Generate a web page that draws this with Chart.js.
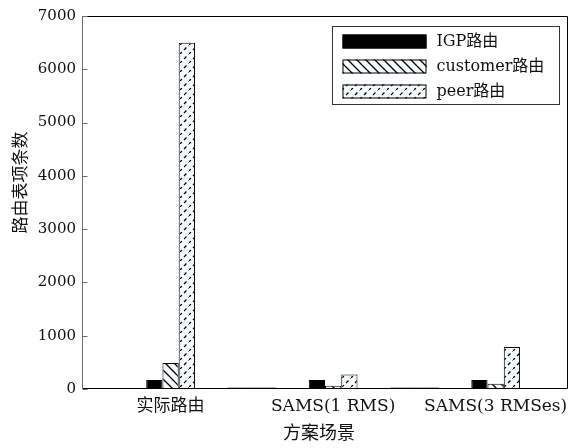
<!DOCTYPE html>
<html>
<head>
<meta charset="utf-8">
<script src="https://cdn.jsdelivr.net/npm/chart.js@4.4.1/dist/chart.umd.min.js"></script>
<style>
  html, body { margin: 0; padding: 0; background: #fff; }
  #wrap { width: 572px; height: 448px; }
</style>
</head>
<body>
<div id="wrap"><canvas id="c" width="572" height="448"></canvas></div>
<script>
// Routing-table entry counts per scenario (blank slots separate the groups)
const categories = ['实际路由', '', 'SAMS(1 RMS)', '', 'SAMS(3 RMSes)'];
const seriesNames = ['IGP路由', 'customer路由', 'peer路由'];
const igpCounts = [170, 0, 170, 0, 170];
const customerCounts = [490, 0, 60, 0, 100];
const peerCounts = [6500, 0, 270, 0, 790];
const yTicks = [0, 1000, 2000, 3000, 4000, 5000, 6000, 7000];
const xTitle = '方案场景';
const yTitle = '路由表项条数';

const FONT_FAMILY = '"DejaVu Serif", "Noto Sans CJK SC", serif';
const HATCH_BG = '#f5fbfd';

// Back-diagonal solid hatching
function backHatch() {
  const s = 9;
  const c = document.createElement('canvas');
  c.width = s; c.height = s;
  const g = c.getContext('2d');
  g.fillStyle = HATCH_BG;
  g.fillRect(0, 0, s, s);
  g.strokeStyle = '#000';
  g.lineWidth = 1.3;
  g.beginPath();
  g.moveTo(-2, -2); g.lineTo(s + 2, s + 2);
  g.moveTo(-2, s - 2); g.lineTo(2, s + 2);
  g.moveTo(s - 2, -2); g.lineTo(s + 2, 2);
  g.stroke();
  return g.createPattern(c, 'repeat');
}

// Forward-diagonal dashed hatching
function dashHatch() {
  const s = 9;
  const c = document.createElement('canvas');
  c.width = s; c.height = s;
  const g = c.getContext('2d');
  g.fillStyle = HATCH_BG;
  g.fillRect(0, 0, s, s);
  g.strokeStyle = '#000';
  g.lineWidth = 1.3;
  g.setLineDash([3.4, 3.0]);
  g.beginPath();
  g.moveTo(-0.5, s + 0.5); g.lineTo(s + 0.5, -0.5);
  g.stroke();
  return g.createPattern(c, 'repeat');
}

const fills = ['#000', backHatch(), dashHatch()];
const seriesValues = [igpCounts, customerCounts, peerCounts];

const toPoints = arr => arr.map((v, i) => ({ x: i + 1, y: v }));

const decorations = {
  id: 'decorations',
  afterDatasetsDraw(chart) {
    const { ctx, chartArea: a, scales } = chart;
    ctx.save();
    // zero-valued bars show as a faint line on the baseline
    chart.data.datasets.forEach((ds, di) => {
      const meta = chart.getDatasetMeta(di);
      meta.data.forEach((el, i) => {
        if (seriesValues[di][i] === 0) {
          ctx.strokeStyle = '#b8b8b8';
          ctx.lineWidth = 1;
          ctx.beginPath();
          ctx.moveTo(el.x - el.width / 2, Math.round(el.base) - 1.5);
          ctx.lineTo(el.x + el.width / 2, Math.round(el.base) - 1.5);
          ctx.stroke();
        }
      });
    });
    // axes box
    const L = Math.round(a.left) + 0.5, R = Math.round(a.right) - 0.5;
    const T = Math.round(a.top) + 0.5, B = Math.round(a.bottom) - 0.5;
    ctx.lineWidth = 1;
    ctx.strokeStyle = '#000';
    ctx.beginPath();
    ctx.moveTo(L, T); ctx.lineTo(R, T); ctx.lineTo(R, B); ctx.lineTo(L, B);
    ctx.stroke();
    ctx.strokeStyle = '#6e6e6e';
    ctx.beginPath();
    ctx.moveTo(L, T); ctx.lineTo(L, B);
    ctx.stroke();
    // inward y tick marks
    yTicks.forEach(v => {
      const y = Math.round(scales.y.getPixelForValue(v)) + 0.5;
      ctx.beginPath();
      ctx.moveTo(L, y); ctx.lineTo(L + 5, y);
      ctx.stroke();
    });
    ctx.restore();
  },
  afterDraw(chart) {
    const { ctx, chartArea: a } = chart;
    ctx.save();
    // legend box
    const bx = Math.round(a.right) - 8.5, by = Math.round(a.top) + 10.5;
    const bw = 227, bh = 78;
    ctx.fillStyle = '#fff';
    ctx.fillRect(bx - bw, by, bw, bh);
    ctx.strokeStyle = '#333';
    ctx.lineWidth = 1;
    ctx.strokeRect(bx - bw, by, bw, bh);
    ctx.font = '16px ' + FONT_FAMILY;
    ctx.textBaseline = 'middle';
    ctx.textAlign = 'left';
    chart.data.datasets.forEach((ds, i) => {
      const cy = by + 15 + i * 25;
      const sx = bx - bw + 10;
      ctx.fillStyle = ds.backgroundColor;
      ctx.fillRect(sx, cy - 7, 84, 14);
      ctx.strokeStyle = '#000';
      ctx.strokeRect(sx + 0.5, cy - 6.5, 83, 13);
      ctx.fillStyle = '#111';
      ctx.fillText(ds.label, sx + 94, cy);
    });
    // axis titles
    ctx.fillStyle = '#111';
    ctx.font = '18px "Noto Sans CJK SC", sans-serif';
    ctx.textAlign = 'center';
    ctx.textBaseline = 'middle';
    ctx.fillText(xTitle, (a.left + a.right) / 2 - 6, 432);
    ctx.font = '17px "Noto Sans CJK SC", sans-serif';
    ctx.translate(20, (a.top + a.bottom) / 2 - 20);
    ctx.rotate(-Math.PI / 2);
    ctx.fillText(yTitle, 0, 0);
    ctx.restore();
  }
};

const yTickFont = { family: FONT_FAMILY, size: 15 };
const xTickFont = { family: FONT_FAMILY, size: 17 };

new Chart(document.getElementById('c').getContext('2d'), {
  type: 'bar',
  data: {
    datasets: seriesNames.map((name, i) => ({
      label: name,
      data: toPoints(seriesValues[i]),
      backgroundColor: fills[i]
    }))
  },
  options: {
    responsive: false,
    animation: false,
    devicePixelRatio: 1,
    layout: { padding: { top: 16, right: 4, left: 0, bottom: 0 } },
    datasets: {
      bar: {
        borderColor: '#000',
        borderWidth: 1,
        borderSkipped: false,
        inflateAmount: 0,
        categoryPercentage: 0.6,
        barPercentage: 1
      }
    },
    plugins: { legend: { display: false }, tooltip: { enabled: false } },
    scales: {
      x: {
        type: 'linear',
        offset: false,
        min: -0.09,
        max: 5.89,
        afterFit(s) {
          s.height = 59;
          s.paddingLeft = 0;
          s.paddingRight = 0;
        },
        afterBuildTicks(s) { s.ticks = categories.map((c, i) => ({ value: i + 1 })); },
        ticks: {
          callback: v => categories[v - 1] ?? '',
          font: xTickFont, color: '#111', padding: 7,
          autoSkip: false, maxRotation: 0
        },
        grid: { display: false, drawTicks: false, offset: false },
        border: { display: false }
      },
      y: {
        min: 0,
        max: 7000,
        afterFit(s) { s.width = 82; },
        afterBuildTicks(s) { s.ticks = yTicks.map(v => ({ value: v })); },
        ticks: { font: yTickFont, color: '#111', padding: 6, callback: v => String(v) },
        grid: { display: false, drawTicks: false },
        border: { display: false }
      }
    }
  },
  plugins: [decorations]
});
</script>
</body>
</html>
